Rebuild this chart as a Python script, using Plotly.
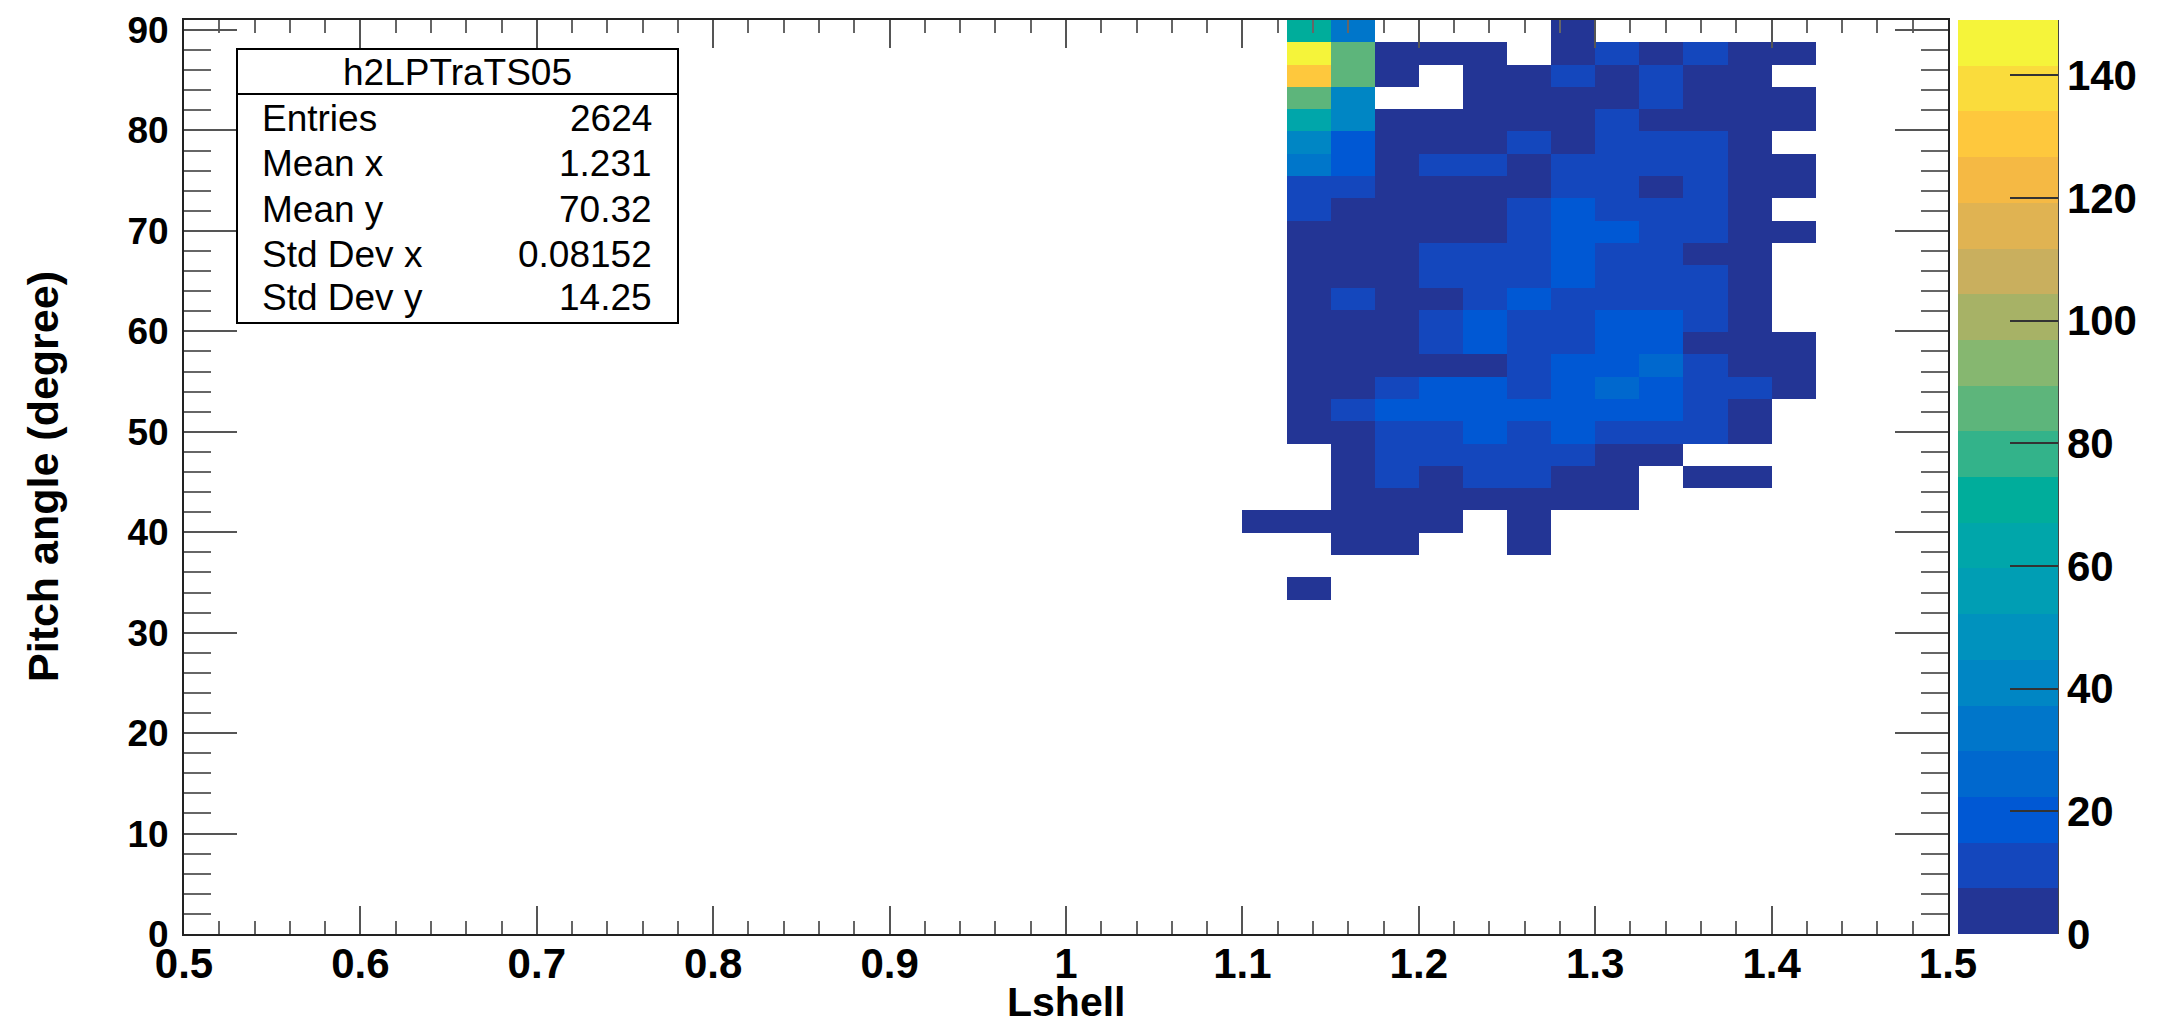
import numpy as np
import plotly.graph_objects as go

# ---------------- histogram definition (ROOT TH2) ----------------
X_MIN, X_MAX, NBX = 0.5, 1.5, 40
Y_MIN, Y_MAX, NBY = 0.0, 91.0, 41

# filled region: columns start at Lshell = 1.1 (bin 24), rows listed from top (bin 40) downwards
first_col_bin = 24
top_row_bin = 40

# counts, one list per pitch-angle row (top row first), one value per Lshell bin from 1.100 upward
counts = [
    [0,  71, 33,  0,  0,  0,  0,  3,  0,  0,  0, 0, 0],
    [0, 149, 86,  5,  4,  6,  0,  4,  9,  5,  8, 3, 2],
    [0, 130, 84,  6,  0,  4,  5, 10,  6,  9,  5, 4, 0],
    [0,  85, 41,  0,  0,  5,  6,  7,  6, 11,  6, 4, 3],
    [0,  63, 40,  6,  5,  7,  5,  6,  9,  7,  6, 5, 2],
    [0,  42, 19,  5,  6,  4, 10,  7, 11, 10,  9, 5, 0],
    [0,  33, 18,  7, 10,  9,  6, 12, 12, 11, 10, 4, 3],
    [0,  12, 11,  6,  5,  7,  6, 10, 13,  7,  9, 5, 2],
    [0,  10,  7,  5,  6,  7, 11, 16, 12, 13, 11, 6, 0],
    [0,   6,  7,  4,  5,  6, 12, 17, 15, 11, 10, 5, 3],
    [0,   5,  6,  7,  9, 11, 12, 18, 13, 12,  7, 4, 0],
    [0,   4,  5,  6, 10, 12, 13, 19, 14, 12, 10, 5, 0],
    [0,   5,  9,  7,  6, 13, 16, 14, 13, 14, 11, 6, 0],
    [0,   4,  6,  7, 12, 17, 13, 14, 16, 17, 12, 6, 0],
    [0,   5,  4,  6, 11, 16, 12, 13, 18, 16,  7, 5, 2],
    [0,   3,  6,  5,  7,  7, 14, 19, 20, 23, 12, 6, 4],
    [0,   4,  7, 10, 18, 19, 14, 21, 24, 20, 13, 9, 3],
    [0,   3,  9, 17, 19, 21, 18, 20, 19, 18, 11, 5, 0],
    [0,   5,  7, 11, 13, 16, 12, 17, 14, 13, 10, 4, 0],
    [0,   0,  6, 12, 10, 13, 11,  9,  6,  5,  0, 0, 0],
    [0,   0,  4, 10,  7,  9, 11,  6,  5,  0,  3, 2, 0],
    [0,   0,  5,  6,  7,  4,  6,  5,  3,  0,  0, 0, 0],
    [2,   3,  4,  5,  3,  0,  2,  0,  0,  0,  0, 0, 0],
    [0,   0,  2,  3,  0,  0,  2,  0,  0,  0,  0, 0, 0],
    [0,   0,  0,  0,  0,  0,  0,  0,  0,  0,  0, 0, 0],
    [0,   1,  0,  0,  0,  0,  0,  0,  0,  0,  0, 0, 0],
]

Z_MAX = 149.0
N_CONTOURS = 20
palette = [
    "#233595", "#1447BD", "#0058D4", "#0068CE", "#0076CA",
    "#0086C4", "#0092BE", "#009EB4", "#00A6AA", "#00AD9B",
    "#33B38A", "#5DB57B", "#86B770", "#A7B266", "#C9AF5E",
    "#E0B352", "#F5B944", "#FEC83D", "#FADC3C", "#F5F43A",
]

x_tickvals = [0.5, 0.6, 0.7, 0.8, 0.9, 1.0, 1.1, 1.2, 1.3, 1.4, 1.5]
x_ticktext = ["0.5", "0.6", "0.7", "0.8", "0.9", "1", "1.1", "1.2", "1.3", "1.4", "1.5"]
y_tickvals = [0, 10, 20, 30, 40, 50, 60, 70, 80, 90]
y_ticktext = ["0", "10", "20", "30", "40", "50", "60", "70", "80", "90"]
z_tickvals = [0, 20, 40, 60, 80, 100, 120, 140]
z_ticktext = ["0", "20", "40", "60", "80", "100", "120", "140"]

stats_title = "h2LPTraTS05"
stats_labels = ["Entries", "Mean x", "Mean y", "Std Dev x", "Std Dev y"]
stats_values = ["2624", "1.231", "70.32", "0.08152", "14.25"]

# ---------------- build full histogram grid ----------------
x_edges = np.linspace(X_MIN, X_MAX, NBX + 1)
y_edges = np.linspace(Y_MIN, Y_MAX, NBY + 1)
z = [[None] * NBX for _ in range(NBY)]
for r, row in enumerate(counts):
    jy = top_row_bin - r
    for c, v in enumerate(row):
        if v > 0:
            z[jy][first_col_bin + c] = v

colorscale = []
for k, col in enumerate(palette):
    colorscale.append([k / N_CONTOURS, col])
    colorscale.append([(k + 1) / N_CONTOURS, col])

# ---------------- layout geometry (pixels) ----------------
W, H = 2159, 1023
L, R, T, B = 176, 219, 12, 97
PW, PH = W - L - R, H - T - B


def px_x(p):
    return (p - L) / PW


def px_y(p):
    return (H - B - p) / PH


FONT = "Liberation Sans, Arial, Helvetica, sans-serif"

fig = go.Figure()
fig.add_trace(go.Heatmap(
    x=x_edges.tolist(), y=y_edges.tolist(), z=z,
    zmin=0, zmax=Z_MAX, colorscale=colorscale, hoverongaps=False,
    colorbar=dict(
        xref="paper", x=px_x(1950), xanchor="left", xpad=0,
        y=0.5, yanchor="middle", len=1, lenmode="fraction", ypad=0,
        thickness=100, thicknessmode="pixels", outlinewidth=0,
        tickmode="array", tickvals=z_tickvals, ticktext=z_ticktext,
        ticks="inside", ticklen=48, tickwidth=2, tickcolor="#333",
        tickfont=dict(family=FONT, size=42, color="black", weight="bold"),
    ),
))

axis_common = dict(
    showline=True, linecolor="#222", linewidth=2, mirror="allticks",
    ticks="inside", tickwidth=2, tickcolor="#555",
    showgrid=False, zeroline=False,
)
fig.update_xaxes(
    range=[X_MIN, X_MAX], tickmode="array", tickvals=x_tickvals, ticktext=x_ticktext,
    ticklen=28, tickfont=dict(family=FONT, size=42, color="black", weight="bold"),
    minor=dict(ticks="inside", ticklen=13, tickwidth=2, tickcolor="#666", dtick=0.02, tick0=0.5, showgrid=False),
    ticklabelstandoff=-8,
    **axis_common,
)
fig.update_yaxes(
    range=[Y_MIN, Y_MAX], tickmode="array", tickvals=y_tickvals, ticktext=y_ticktext,
    ticklen=53, tickfont=dict(family=FONT, size=37, color="black", weight="bold"),
    minor=dict(ticks="inside", ticklen=27, tickwidth=2, tickcolor="#666", dtick=2, tick0=0, showgrid=False),
    ticklabelstandoff=6,
    **axis_common,
)

annotations = [
    dict(text="Lshell", xref="paper", yref="paper", x=0.5, y=px_y(994), xanchor="center", yanchor="middle",
         showarrow=False, font=dict(family=FONT, size=41, color="black", weight="bold")),
    dict(text="Pitch angle (degree)", xref="paper", yref="paper", x=px_x(35), y=0.5, xanchor="center",
         yanchor="middle", textangle=-90, showarrow=False,
         font=dict(family=FONT, size=43, color="black", weight="bold")),
    dict(text=stats_title, xref="paper", yref="paper", x=px_x(449.5), y=px_y(64), xanchor="center",
         yanchor="middle", showarrow=False, font=dict(family=FONT, size=37, color="black")),
]
row_y = [110, 156, 201, 246, 290]
for lab, val, yy in zip(stats_labels, stats_values, row_y):
    annotations.append(dict(text=lab, xref="paper", yref="paper", x=px_x(252), y=px_y(yy), xanchor="left",
                            yanchor="middle", showarrow=False, font=dict(family=FONT, size=37, color="black")))
    annotations.append(dict(text=val, xref="paper", yref="paper", x=px_x(646), y=px_y(yy), xanchor="right",
                            yanchor="middle", showarrow=False, font=dict(family=FONT, size=37, color="black")))

shapes = [
    dict(type="rect", xref="paper", yref="paper", x0=px_x(229), x1=px_x(670), y0=px_y(315), y1=px_y(41),
         line=dict(color="black", width=2), fillcolor="white", layer="above"),
    dict(type="line", xref="paper", yref="paper", x0=px_x(229), x1=px_x(670), y0=px_y(86), y1=px_y(86),
         line=dict(color="black", width=2), layer="above"),
    dict(type="line", xref="paper", yref="paper", x0=px_x(2050), x1=px_x(2050), y0=0, y1=1,
         line=dict(color="#444", width=2), layer="above"),
]

fig.update_layout(
    width=W, height=H, margin=dict(l=L, r=R, t=T, b=B, autoexpand=False),
    paper_bgcolor="white", plot_bgcolor="white",
    annotations=annotations, shapes=shapes, showlegend=False,
)

fig.write_html("out.html")
